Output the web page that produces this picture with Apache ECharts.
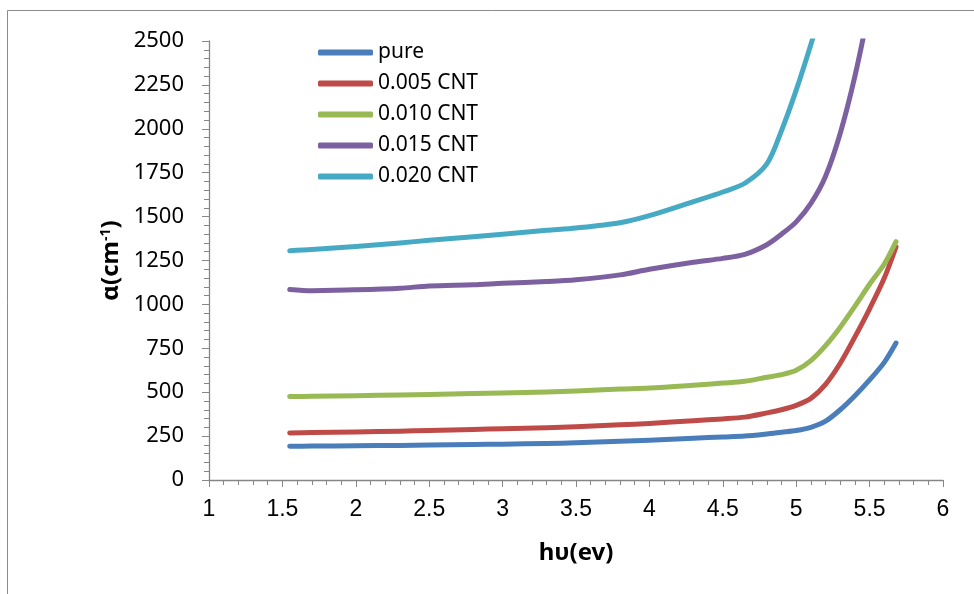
<!DOCTYPE html>
<html>
<head>
<meta charset="utf-8">
<script src="https://cdn.jsdelivr.net/npm/echarts@6/dist/echarts.min.js"></script>
<style>
html,body{margin:0;padding:0;background:#fff;}
#chart{width:974px;height:594px;}
</style>
</head>
<body>
<div id="chart"></div>
<script>
// photon energy hυ (eV)
const energy = [1.55, 1.7, 2.0, 2.3, 2.5, 2.8, 3.0, 3.3, 3.5, 3.8, 4.0, 4.3, 4.5, 4.65, 4.8, 4.9, 5.0, 5.1, 5.2, 5.3, 5.4, 5.5, 5.6, 5.68];
// absorption coefficient α (cm^-1)
const pure    = [192, 193, 195, 197, 199, 202, 204, 208, 212, 220, 227, 238, 245, 250, 262, 272, 282, 300, 335, 400, 480, 570, 670, 780];
const cnt005  = [268, 270, 274, 278, 282, 288, 292, 298, 303, 314, 322, 338, 348, 358, 382, 400, 425, 465, 545, 665, 815, 975, 1150, 1327];
const cnt010  = [475, 477, 480, 484, 487, 492, 495, 501, 507, 518, 524, 540, 552, 562, 585, 600, 625, 680, 765, 870, 990, 1115, 1230, 1357];
const cnt015  = [1085, 1078, 1083, 1092, 1105, 1112, 1120, 1130, 1140, 1168, 1200, 1240, 1262, 1285, 1340, 1400, 1470, 1575, 1730, 1975, 2300, 2700, 3150, 3550];
const cnt020  = [1305, 1312, 1330, 1350, 1365, 1385, 1400, 1422, 1435, 1465, 1505, 1585, 1640, 1690, 1800, 1990, 2220, 2480, 2760, 3050, 3350, 3650, 3950, 4200];
const seriesNames = ['pure', '0.005 CNT', '0.010 CNT', '0.015 CNT', '0.020 CNT'];
const seriesValues = [pure, cnt005, cnt010, cnt015, cnt020];
const colors = ['#4A7EBB', '#BE4B48', '#98B954', '#7D60A0', '#46AAC5'];
const xTicks = { min: 1, max: 6, step: 0.5 };
const yTicks = { min: 0, max: 2500, step: 250 };

const chart = echarts.init(document.getElementById('chart'), null, { renderer: 'canvas' });
const axisGrey = '#868686';

chart.setOption({
  animation: false,
  backgroundColor: '#ffffff',
  color: colors,
  graphic: [{
    type: 'rect',
    shape: { x: 7.5, y: 10.5, width: 1200, height: 1200 },
    style: { fill: 'none', stroke: '#8c8c8c', lineWidth: 1 },
    silent: true
  }],
  grid: { left: 209, right: 31, top: 41, bottom: 114, containLabel: false },
  legend: {
    orient: 'vertical',
    left: 313,
    top: 37,
    itemWidth: 55,
    itemHeight: 6,
    itemGap: 10,
    icon: 'roundRect',
    textStyle: { fontFamily: 'Noto Sans', fontSize: 21, color: '#000', lineHeight: 21, padding: [0, 0, 0, 0] },
    data: seriesNames
  },
  xAxis: {
    type: 'value',
    min: xTicks.min, max: xTicks.max, interval: xTicks.step,
    name: 'hυ(ev)',
    nameLocation: 'middle',
    nameGap: 61,
    nameTextStyle: { fontFamily: 'Noto Sans', fontWeight: 'bold', fontSize: 24, color: '#000' },
    axisLine: { show: true, onZero: false, lineStyle: { color: axisGrey, width: 1.3 } },
    axisTick: { show: true, inside: false, length: 7, lineStyle: { color: axisGrey } },
    minorTick: { show: true, splitNumber: 5, length: 5, lineStyle: { color: axisGrey } },
    splitLine: { show: false },
    axisLabel: {
      fontFamily: 'Liberation Sans', fontSize: 23, color: '#000', margin: 18,
      formatter: v => String(Math.round(v * 10) / 10)
    }
  },
  yAxis: {
    type: 'value',
    min: yTicks.min, max: yTicks.max, interval: yTicks.step,
    name: 'α(cm{sup|-1})',
    nameLocation: 'middle',
    nameGap: 72,
    nameRotate: 90,
    nameTextStyle: {
      fontFamily: 'Noto Sans', fontWeight: 'bold', fontSize: 24, color: '#000',
      rich: { sup: { fontFamily: 'Noto Sans', fontWeight: 'bold', fontSize: 14, color: '#000', verticalAlign: 'top', padding: [0, 0, 10, 0] } }
    },
    axisLine: { show: true, onZero: false, lineStyle: { color: axisGrey, width: 1.3 } },
    axisTick: { show: true, inside: false, length: 7, lineStyle: { color: axisGrey } },
    minorTick: { show: true, splitNumber: 5, length: 5, lineStyle: { color: axisGrey } },
    splitLine: { show: false },
    axisLabel: { fontFamily: 'Noto Sans', fontSize: 22, color: '#000', margin: 25, formatter: v => String(v) }
  },
  series: seriesNames.map((name, i) => ({
    name: name,
    type: 'line',
    data: energy.map((x, j) => [x, seriesValues[i][j]]),
    smooth: 0.3,
    showSymbol: false,
    symbol: 'none',
    clip: true,
    lineStyle: { width: 5, color: colors[i], cap: 'round', join: 'round' },
    itemStyle: { color: colors[i] }
  }))
});
</script>
</body>
</html>
